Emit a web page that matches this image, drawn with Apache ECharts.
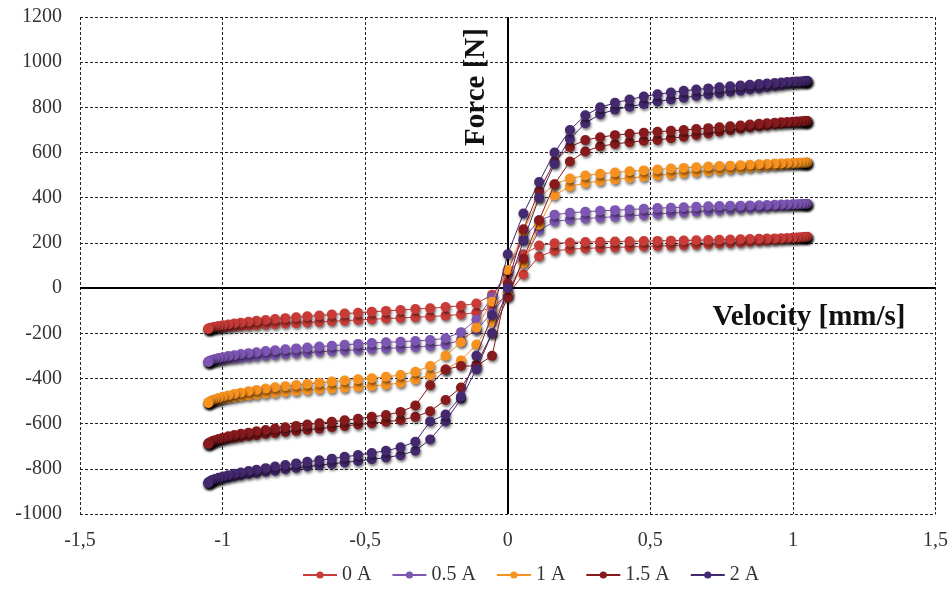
<!DOCTYPE html>
<html>
<head>
<meta charset="utf-8">
<script src="https://cdn.jsdelivr.net/npm/echarts@6/dist/echarts.min.js"></script>
<style>
  html, body { margin: 0; padding: 0; background: #fff; }
  #chart { width: 951px; height: 592px; }
</style>
</head>
<body>
<div id="chart"></div>
<script>
// velocity samples of one half cycle, from -max to +max [mm/s]
var velocity = [-1.05, -1.049, -1.044, -1.037, -1.027, -1.014, -0.999, -0.98, -0.959, -0.936, -0.909, -0.881, -0.849, -0.816, -0.78, -0.742, -0.703, -0.661, -0.617, -0.572, -0.525, -0.477, -0.427, -0.376, -0.324, -0.272, -0.218, -0.164, -0.11, -0.055, 0, 0.055, 0.11, 0.164, 0.218, 0.272, 0.324, 0.376, 0.427, 0.477, 0.525, 0.572, 0.617, 0.661, 0.703, 0.742, 0.78, 0.816, 0.849, 0.881, 0.909, 0.936, 0.959, 0.98, 0.999, 1.014, 1.027, 1.037, 1.044, 1.049, 1.05];

// force [N], rising-velocity branch (lower) and falling-velocity branch (upper), same order as velocity
var force0Up = [-181, -180, -179, -178, -177, -176, -174, -172, -170, -168, -166, -164, -162, -160, -157, -155, -152, -150, -147, -144, -141, -138, -135, -132, -129, -126, -122, -117, -108, -85, -30, 60, 140, 165, 172, 176, 178, 180, 182, 184, 186, 188, 190, 192, 194, 196, 199, 201, 204, 207, 210, 212, 215, 217, 219, 221, 222, 224, 225, 226, 226];
var force0Down = [-181, -179, -177, -174, -171, -168, -165, -161, -157, -153, -149, -145, -141, -137, -133, -129, -125, -121, -117, -113, -109, -105, -101, -97, -93, -89, -84, -78, -68, -30, 60, 150, 188, 198, 202, 204, 205, 206, 207, 208, 209, 210, 211, 212, 213, 214, 215, 216, 217, 218, 219, 220, 221, 222, 223, 224, 225, 225, 226, 226, 226];

var force05Up = [-327, -326, -325, -323, -321, -319, -317, -314, -312, -309, -306, -303, -300, -296, -293, -289, -286, -282, -279, -276, -273, -270, -267, -264, -261, -257, -250, -230, -185, -110, -20, 120, 255, 295, 303, 308, 312, 316, 320, 324, 328, 332, 335, 338, 341, 344, 347, 350, 353, 356, 358, 361, 363, 365, 367, 369, 370, 371, 372, 372, 372];
var force05Down = [-327, -325, -322, -318, -314, -310, -306, -301, -297, -292, -288, -284, -279, -275, -271, -267, -263, -259, -255, -251, -247, -243, -240, -237, -234, -230, -222, -195, -140, -40, 80, 220, 300, 325, 333, 338, 342, 345, 348, 351, 354, 356, 358, 360, 362, 363, 364, 365, 366, 367, 368, 369, 370, 370, 371, 371, 372, 372, 372, 372, 372];

var force1Up = [-509, -507, -505, -502, -499, -496, -492, -488, -484, -480, -476, -472, -468, -464, -460, -456, -452, -448, -445, -441, -437, -433, -428, -420, -405, -385, -360, -320, -250, -150, -30, 110, 280, 410, 450, 465, 474, 481, 487, 493, 499, 504, 509, 513, 517, 521, 525, 529, 533, 536, 539, 542, 545, 547, 549, 551, 552, 553, 554, 555, 555];
var force1Down = [-509, -506, -502, -497, -492, -487, -481, -475, -469, -463, -457, -451, -445, -439, -434, -429, -424, -419, -414, -409, -404, -399, -393, -385, -370, -345, -300, -240, -175, -60, 80, 250, 400, 460, 485, 498, 506, 512, 517, 521, 525, 529, 532, 535, 538, 540, 542, 544, 546, 548, 549, 551, 552, 553, 554, 554, 555, 555, 555, 555, 555];

var force15Up = [-690, -688, -685, -682, -679, -675, -671, -667, -663, -659, -655, -651, -646, -642, -637, -632, -627, -622, -616, -610, -604, -598, -592, -584, -570, -545, -495, -440, -340, -200, -40, 130, 300, 460, 560, 605, 628, 638, 646, 652, 656, 663, 670, 678, 685, 692, 699, 705, 711, 716, 720, 724, 727, 730, 732, 734, 736, 737, 738, 738, 738];
var force15Down = [-690, -687, -683, -678, -673, -668, -662, -656, -650, -645, -640, -634, -628, -622, -616, -610, -604, -598, -592, -585, -578, -570, -562, -548, -520, -430, -360, -345, -345, -300, 20, 260, 430, 560, 625, 655, 668, 677, 683, 688, 692, 696, 700, 704, 708, 712, 716, 720, 724, 727, 730, 732, 734, 735, 736, 737, 737, 738, 738, 738, 738];

var force2Up = [-863, -861, -858, -855, -851, -847, -843, -838, -833, -828, -823, -818, -813, -808, -802, -796, -790, -784, -778, -772, -765, -758, -750, -740, -720, -670, -590, -490, -360, -200, 0, 210, 400, 550, 660, 730, 770, 790, 803, 815, 826, 835, 843, 850, 857, 863, 869, 874, 879, 884, 889, 894, 898, 902, 906, 909, 912, 914, 915, 916, 916];
var force2Down = [-863, -860, -855, -850, -845, -840, -834, -828, -822, -816, -810, -804, -797, -790, -783, -776, -769, -762, -755, -747, -739, -730, -720, -705, -680, -590, -560, -480, -300, -120, 150, 330, 470, 600, 700, 765, 800, 820, 835, 848, 858, 866, 873, 879, 884, 889, 893, 897, 900, 903, 906, 908, 910, 912, 913, 914, 915, 915, 916, 916, 916];

var seriesNames = ['0 A', '0.5 A', '1 A', '1.5 A', '2 A'];
var seriesColors = ['#c83b37', '#7d55b3', '#f7921f', '#861a1c', '#44296f'];
var upBranches = [force0Up, force05Up, force1Up, force15Up, force2Up];
var downBranches = [force0Down, force05Down, force1Down, force15Down, force2Down];

var xTicks = { min: -1.5, max: 1.5, step: 0.5 };
var yTicks = { min: -1000, max: 1200, step: 200 };

function loopData(up, down) {
    var pts = [];
    velocity.forEach(function (v, i) { pts.push([v, up[i]]); });
    for (var i = velocity.length - 1; i >= 0; i--) {
        pts.push([velocity[i], down[i]]);
    }
    return pts;
}

var serifFont = '"Liberation Serif", "DejaVu Serif", serif';

var series = seriesNames.map(function (name, i) {
    return {
        name: name, type: 'line', symbol: 'circle', symbolSize: 10, showSymbol: true,
        data: loopData(upBranches[i], downBranches[i]),
        lineStyle: {width: 1, color: seriesColors[i]},
        itemStyle: {color: seriesColors[i], shadowColor: 'rgba(0,0,0,0.55)', shadowBlur: 3, shadowOffsetX: 1, shadowOffsetY: 2},
        emphasis: {disabled: true},
        z: 3 + i
    };
});

// zero lines of both axes
series.push({
    type: 'line', data: [], silent: true,
    markLine: {
        silent: true, symbol: 'none', animation: false, label: {show: false},
        lineStyle: {color: '#000', width: 2, type: 'solid'},
        data: [{yAxis: 0}, {xAxis: 0}]
    },
    z: 2
});

var chart = echarts.init(document.getElementById('chart'));
chart.setOption({
    backgroundColor: '#fff',
    animation: false,
    color: seriesColors,
    grid: {left: 80, right: 15, top: 17, bottom: 78, containLabel: false},
    xAxis: {
        type: 'value', min: xTicks.min, max: xTicks.max, interval: xTicks.step,
        axisLine: {show: false}, axisTick: {show: false},
        splitLine: {show: true, lineStyle: {color: '#222', type: [3, 2], width: 1}},
        axisLabel: {
            margin: 17, color: '#333', fontFamily: serifFont, fontSize: 20,
            formatter: function (v) { return String(v).replace('.', ','); }
        }
    },
    yAxis: {
        type: 'value', min: yTicks.min, max: yTicks.max, interval: yTicks.step,
        axisLine: {show: false}, axisTick: {show: false},
        splitLine: {show: true, lineStyle: {color: '#222', type: [3, 2], width: 1}},
        axisLabel: {
            margin: 18, color: '#333', fontFamily: serifFont, fontSize: 20,
            formatter: function (v) { return String(v); }
        }
    },
    legend: {
        bottom: 2, left: 297, itemGap: 20, itemWidth: 34, itemHeight: 9,
        textStyle: {fontFamily: serifFont, fontSize: 20, color: '#333'},
        data: seriesNames
    },
    graphic: [
        {
            type: 'text', x: 477, y: 87, rotation: Math.PI / 2,
            style: {text: 'Force [N]', font: 'bold 29px ' + serifFont, fill: '#111', align: 'center', verticalAlign: 'middle'},
            z: 10
        },
        {
            type: 'text', x: 809, y: 318,
            style: {text: 'Velocity [mm/s]', font: 'bold 29px ' + serifFont, fill: '#111', align: 'center', verticalAlign: 'middle'},
            z: 10
        }
    ],
    series: series
});
</script>
</body>
</html>
